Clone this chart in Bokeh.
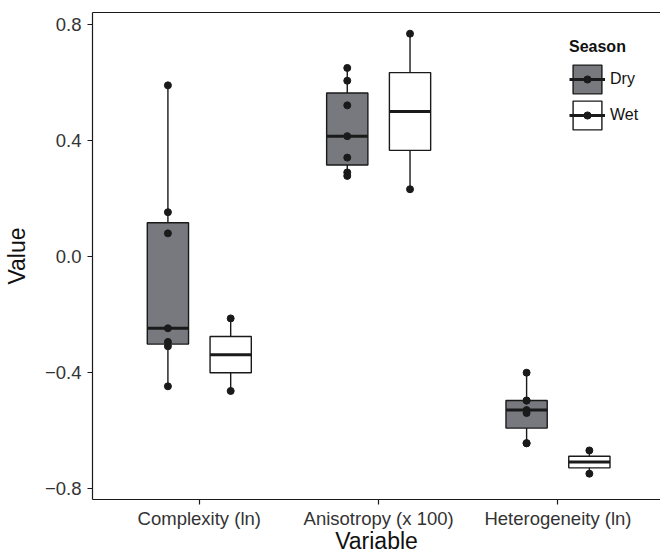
import numpy as np
from bokeh.plotting import figure
from bokeh.models import (ColumnDataSource, FixedTicker, LinearAxis, Legend,
                          LegendItem, Range1d)
from bokeh.embed import file_html
from bokeh.resources import INLINE

# ---- data ----
variables = ["Complexity (ln)", "Anisotropy (x 100)", "Heterogeneity (ln)"]
seasons = ["Dry", "Wet"]

complexity_dry = [0.589, 0.152, 0.079, -0.248, -0.295, -0.310, -0.448]
complexity_wet = [-0.214, -0.464]
anisotropy_dry = [0.649, 0.605, 0.520, 0.414, 0.340, 0.289, 0.277]
anisotropy_wet = [0.767, 0.231]
heterogeneity_dry = [-0.401, -0.497, -0.497, -0.530, -0.540, -0.644, -0.644]
heterogeneity_wet = [-0.669, -0.749]

y_ticks = [-0.8, -0.4, 0.0, 0.4, 0.8]
y_tick_labels = ["\u22120.8", "\u22120.4", "0.0", "0.4", "0.8"]

groups = {
    "Dry": [complexity_dry, anisotropy_dry, heterogeneity_dry],
    "Wet": [complexity_wet, anisotropy_wet, heterogeneity_wet],
}

# ---- styling ----
DODGE = 0.175
BOX_W = 0.23
fills = {"Dry": "#77797e", "Wet": "#ffffff"}
INK = "#1a1a1a"
FONT = "Liberation Sans"


def box_stats(vals):
    v = np.asarray(vals, dtype=float)
    q1, med, q3 = np.percentile(v, [25, 50, 75])
    iqr = q3 - q1
    lo = v[v >= q1 - 1.5 * iqr].min()
    hi = v[v <= q3 + 1.5 * iqr].max()
    return q1, med, q3, lo, hi


p = figure(width=660, height=556,
           x_range=Range1d(0.4045, 3.5716), y_range=Range1d(-0.838, 0.840),
           output_backend="svg", toolbar_location=None,
           min_border_left=92, min_border_right=0, min_border_top=12,
           min_border_bottom=57, x_axis_type=None, y_axis_type=None)
p.outline_line_color = None
p.background_fill_color = "white"
p.border_fill_color = "white"

renderers = {}
for season in seasons:
    off = -DODGE if season == "Dry" else DODGE
    xs, q1s, meds, q3s, los, his = [], [], [], [], [], []
    px, py = [], []
    for i, vals in enumerate(groups[season]):
        q1, med, q3, lo, hi = box_stats(vals)
        x = i + 1 + off
        xs.append(x); q1s.append(q1); meds.append(med); q3s.append(q3)
        los.append(lo); his.append(hi)
        px.extend([x] * len(vals)); py.extend(vals)
    src = ColumnDataSource(dict(x=xs, q1=q1s, med=meds, q3=q3s, lo=los, hi=his,
                                xl=[x - BOX_W / 2 for x in xs],
                                xr=[x + BOX_W / 2 for x in xs]))
    psrc = ColumnDataSource(dict(x=px, y=py))
    wh = p.segment(x0="x", y0="lo", x1="x", y1="hi", source=src,
                   line_color=INK, line_width=1.4)
    bx = p.quad(left="xl", right="xr", bottom="q1", top="q3", source=src,
                fill_color=fills[season], line_color=INK, line_width=1.4)
    md = p.segment(x0="xl", y0="med", x1="xr", y1="med", source=src,
                   line_color=INK, line_width=3)
    pt = p.scatter(x="x", y="y", source=psrc, size=7, marker="circle",
                   fill_color=INK, line_color=INK)
    renderers[season] = (wh, bx, md, pt)

# ---- axes ----
xaxis = LinearAxis(ticker=FixedTicker(ticks=[1, 2, 3]),
                   major_label_overrides={i + 1: v for i, v in enumerate(variables)},
                   axis_label="Variable")
yaxis = LinearAxis(ticker=FixedTicker(ticks=y_ticks),
                   major_label_overrides={t: l for t, l in zip(y_ticks, y_tick_labels)},
                   axis_label="Value")
for ax in (xaxis, yaxis):
    ax.axis_line_color = INK
    ax.axis_line_width = 1.2
    ax.major_tick_line_color = INK
    ax.major_tick_line_width = 1.2
    ax.major_tick_out = 5
    ax.major_tick_in = 0
    ax.minor_tick_out = 0
    ax.minor_tick_in = 0
    ax.major_label_text_font = FONT
    ax.major_label_text_font_size = "18.5px"
    ax.major_label_text_color = "#333333"
    ax.axis_label_text_font = FONT
    ax.axis_label_text_font_size = "23px"
    ax.axis_label_text_font_style = "normal"
    ax.axis_label_text_color = "#111111"
xaxis.major_label_standoff = 3
xaxis.axis_label_standoff = -4
yaxis.major_label_standoff = 6
yaxis.axis_label_standoff = 12
p.add_layout(xaxis, "below")
p.add_layout(yaxis, "left")

top = LinearAxis(ticker=FixedTicker(ticks=[]), major_tick_out=0, major_tick_in=0,
                 minor_tick_out=0, minor_tick_in=0, major_label_standoff=0,
                 major_label_text_font_size="0px", axis_line_color=INK,
                 axis_line_width=1.2)
p.add_layout(top, "above")

# ---- legend ----
leg = Legend(items=[LegendItem(label=s, renderers=[renderers[s][1], renderers[s][2]])
                    for s in seasons],
             title="Season", location=(477, 366))
leg.title_text_font = FONT
leg.title_text_font_style = "bold"
leg.title_text_font_size = "16px"
leg.title_text_color = "#111111"
leg.title_standoff = 5
leg.label_text_font = FONT
leg.label_text_font_size = "16px"
leg.label_text_color = "#111111"
leg.glyph_width = 36
leg.glyph_height = 36
leg.spacing = 0
leg.padding = 0
leg.margin = 0
leg.label_standoff = 5
leg.border_line_color = None
leg.background_fill_alpha = 0
p.add_layout(leg, "center")

dots = Legend(items=[LegendItem(label=" ", renderers=[renderers[s][3]]) for s in seasons],
              location=(486, 375))
dots.glyph_width = 18
dots.glyph_height = 18
dots.spacing = 18
dots.padding = 0
dots.margin = 0
dots.label_standoff = 0
dots.label_text_font_size = "1px"
dots.border_line_color = None
dots.background_fill_alpha = 0
p.add_layout(dots, "center")

open("out.html", "w").write(file_html(p, INLINE))
